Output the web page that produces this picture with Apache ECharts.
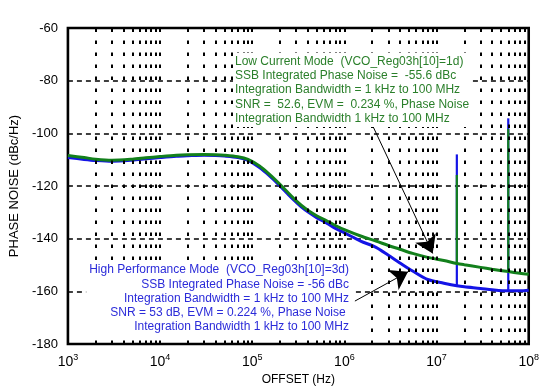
<!DOCTYPE html>
<html>
<head>
<meta charset="utf-8">
<script src="https://cdn.jsdelivr.net/npm/echarts@6/dist/echarts.min.js"></script>
<style>html,body{margin:0;padding:0;background:#fff;}#c{width:542px;height:392px;}</style>
</head>
<body>
<div id="c"></div>
<script>
// ---- data ----
const freqs = [1e3, 1.5e3, 2e3, 3e3, 5e3, 7e3, 1e4, 1.5e4, 2e4, 3e4, 4e4, 5e4, 7e4, 9e4,
  1.2e5, 1.5e5, 1.9e5, 2.4e5, 2.8e5, 3.4e5, 4.2e5, 5e5, 6.5e5, 8e5, 1e6, 1.5e6, 2.2e6,
  3e6, 4e6, 5.5e6, 8e6, 1.2e7, 1.66e7, 2e7, 3e7, 4e7, 6e7, 8e7, 1e8];
const lowCurrent = [-108.4, -109.2, -109.8, -110.2, -109.8, -109.3, -108.8, -108.3, -108.1, -108.0,
  -108.1, -108.3, -108.9, -109.9, -112.4, -115.2, -118.6, -122.2, -124.6, -127.3, -129.7, -131.3,
  -133.3, -135.0, -136.6, -139.0, -140.9, -142.6, -144.0, -145.6, -147.1, -148.3, -149.4, -149.9,
  -150.9, -151.6, -152.5, -153.1, -153.5];
const highPerf = [-109.2, -109.9, -110.3, -110.6, -110.2, -109.7, -109.2, -108.7, -108.5, -108.3,
  -108.4, -108.6, -109.2, -110.3, -113.0, -115.8, -119.2, -122.8, -125.2, -127.9, -130.3, -132.0,
  -134.2, -136.1, -137.8, -140.9, -143.3, -146.3, -149.2, -152.3, -155.5, -156.9, -157.9, -158.3,
  -158.9, -159.4, -159.8, -159.8, -159.6];
const spurFreqs = [1.66e7, 6.0e7];
const highPerfSpurTops = [-108.0, -94.3];
const lowCurrentSpurTops = [-115.8, -98.3];
const xDecades = [3, 4, 5, 6, 7, 8];
const yTicks = [-180, -160, -140, -120, -100, -80, -60];

const greenText = [
  'Low Current Mode  (VCO_Reg03h[10]=1d)',
  'SSB Integrated Phase Noise =  -55.6 dBc',
  'Integration Bandwidth = 1 kHz to 100 MHz',
  'SNR =  52.6, EVM =  0.234 %, Phase Noise',
  'Integration Bandwidth 1 kHz to 100 MHz'
];
const blueText = [
  'High Performance Mode  (VCO_Reg03h[10]=3d)',
  'SSB Integrated Phase Noise = -56 dBc',
  'Integration Bandwidth = 1 kHz to 100 MHz',
  'SNR = 53 dB, EVM = 0.224 %, Phase Noise ',
  'Integration Bandwidth 1 kHz to 100 MHz'
];
// arrow annotations (data-space endpoints)
const greenArrow = [[1.97e6, -96.2], [9.08e6, -145.6]];
const blueArrow = [[1.3e6, -163.7], [4.9e6, -152.6]];

// ---- styles ----
const BLUE = '#1414e6';
const GREEN = '#13801c';
const FONT = '"Liberation Sans", Arial, Helvetica, sans-serif';

const pairs = (xs, ys) => xs.map((x, i) => [x, ys[i]]);
const baseAt = (ys, f) => ys[freqs.indexOf(f)];

// minor/major vertical grid positions
const vGrid = [];
for (let d = 3; d <= 7; d++) for (let k = 1; k <= 9; k++) {
  const v = k * Math.pow(10, d);
  if (v > 1e3 && v < 1e8) vGrid.push(v);
}

function spurSeries(ys, tops, color, z) {
  return spurFreqs.map((f, i) => ({
    type: 'line', data: [[f, baseAt(ys, f)], [f, tops[i]]],
    showSymbol: false, symbol: 'none', silent: true,
    lineStyle: { color: color, width: 2.2 }, z: z
  }));
}

const chart = echarts.init(document.getElementById('c'), null, { renderer: 'canvas' });
chart.setOption({
  animation: false,
  backgroundColor: '#fff',
  grid: { left: 66, right: 12, top: 28, bottom: 48, show: true, borderColor: '#000', borderWidth: 2.6, backgroundColor: 'transparent' },
  xAxis: {
    type: 'log', logBase: 10, min: 1e3, max: 1e8,
    name: 'OFFSET (Hz)', nameLocation: 'middle', nameGap: 30,
    nameTextStyle: { fontFamily: FONT, fontSize: 12, color: '#000' },
    axisLine: { show: false }, axisTick: { show: false },
    splitLine: { show: false },
    axisLabel: {
      margin: 9, color: '#000',
      formatter: v => { const e = Math.round(Math.log10(v)); return xDecades.includes(e) ? '{b|10}{s|' + e + '}' : ''; },
      rich: {
        b: { fontFamily: FONT, fontSize: 14, color: '#000' },
        s: { fontFamily: FONT, fontSize: 9, color: '#000', padding: [0, 0, 9, 0] }
      }
    }
  },
  yAxis: {
    type: 'value', min: yTicks[0], max: yTicks[yTicks.length - 1], interval: 20,
    name: 'PHASE NOISE (dBc/Hz)', nameLocation: 'middle', nameGap: 46,
    nameTextStyle: { fontFamily: FONT, fontSize: 13, color: '#000' },
    axisLine: { show: false }, axisTick: { show: false },
    axisLabel: { fontFamily: FONT, fontSize: 13, color: '#000', margin: 10 },
    splitLine: { show: true, lineStyle: { color: '#000', width: 1.5, type: [5, 4] } }
  },
  graphic: [
    { type: 'text', x: 233, y: 53, silent: true, z: 10,
      style: { text: greenText.join('\n'), fill: '#2a7f2a', font: '12px ' + FONT, lineHeight: 14.4,
        align: 'left', verticalAlign: 'top', backgroundColor: '#fff', padding: [1, 3, 1, 2] } },
    { type: 'text', x: 352, y: 262, silent: true, z: 10,
      style: { text: blueText.join('\n'), fill: '#2b2bd9', font: '12px ' + FONT, lineHeight: 14.2,
        align: 'right', verticalAlign: 'top', backgroundColor: '#fff', padding: [1, 3, 1, 3] } }
  ],
  series: [
    {
      type: 'line', data: [], z: 1, silent: true,
      markLine: {
        silent: true, symbol: ['none', 'none'], label: { show: false },
        lineStyle: { color: '#000', width: 2, type: [3.5, 8.5] },
        data: vGrid.map(v => ({ xAxis: v }))
      }
    },
    { type: 'line', data: pairs(freqs, highPerf), showSymbol: false, symbol: 'none', smooth: 0.3, silent: true,
      lineStyle: { color: BLUE, width: 3 }, z: 3 },
    ...spurSeries(highPerf, highPerfSpurTops, BLUE, 3),
    { type: 'line', data: pairs(freqs, lowCurrent), showSymbol: false, symbol: 'none', smooth: 0.3, silent: true,
      lineStyle: { color: GREEN, width: 3 }, z: 4 },
    ...spurSeries(lowCurrent, lowCurrentSpurTops, GREEN, 4),
    {
      type: 'line', data: [], z: 20, silent: true,
      markLine: {
        silent: true, symbol: ['none', 'arrow'], symbolSize: 17, label: { show: false },
        itemStyle: { color: '#000' },
        lineStyle: { color: '#000', width: 1, type: 'solid' },
        data: [
          [{ coord: greenArrow[0] }, { coord: greenArrow[1] }],
          [{ coord: blueArrow[0] }, { coord: blueArrow[1] }]
        ]
      }
    }
  ]
});
</script>
</body>
</html>
